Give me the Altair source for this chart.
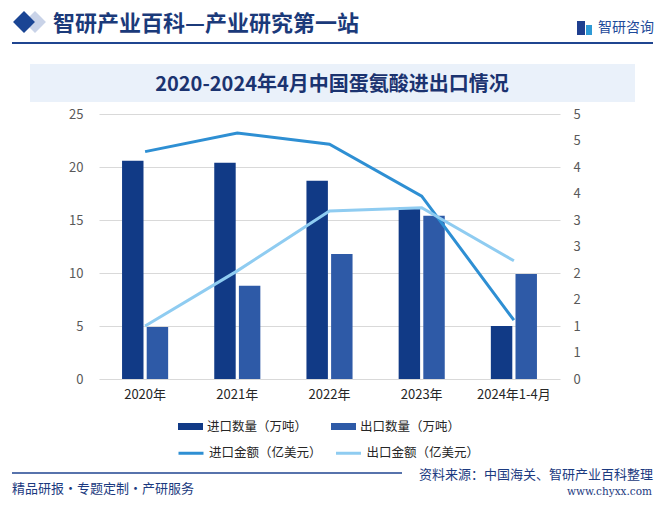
import altair as alt
import pandas as pd

years = ["2020年", "2021年", "2022年", "2023年", "2024年1-4月"]
import_qty = [20.6, 20.4, 18.7, 16.2, 5.0]
export_qty = [4.9, 8.8, 11.8, 15.4, 9.9]
import_amt = [4.29, 4.64, 4.43, 3.45, 1.11]
export_amt = [1.0, 2.04, 3.17, 3.23, 2.23]

bar_series = ["进口数量（万吨）", "出口数量（万吨）"]
line_series = ["进口金额（亿美元）", "出口金额（亿美元）"]
bar_colors = ["#113A86", "#2E5AA7"]
line_colors = ["#2E8FD3", "#8FCCF1"]

left_ticks = [0, 5, 10, 15, 20, 25]
right_ticks = [0, 0.5, 1, 1.5, 2, 2.5, 3, 3.5, 4, 4.5, 5]

FONT = "Noto Sans CJK SC"

bars_df = pd.DataFrame(
    {
        "year": years * 2,
        "series": [bar_series[0]] * 5 + [bar_series[1]] * 5,
        "value": import_qty + export_qty,
    }
)
lines_df = pd.DataFrame(
    {
        "year": years * 2,
        "series": [line_series[0]] * 5 + [line_series[1]] * 5,
        "value": import_amt + export_amt,
    }
)

x_enc = alt.X(
    "year:N",
    sort=years,
    scale=alt.Scale(paddingInner=0.5, paddingOuter=0.25),
    axis=alt.Axis(
        title=None, labelAngle=0, domain=False, ticks=False,
        labelColor="#262626", labelFontSize=13, labelPadding=9, labelFont=FONT,
    ),
)

bars = alt.Chart(bars_df).mark_bar().encode(
    x=x_enc,
    xOffset=alt.XOffset("series:N", sort=bar_series, scale=alt.Scale(paddingInner=0.13)),
    y=alt.Y(
        "value:Q",
        scale=alt.Scale(domain=[0, 25]),
        axis=alt.Axis(
            values=left_ticks, title=None, grid=True, gridColor="#D9D9D9",
            domain=False, ticks=False, labelColor="#595959", labelFontSize=13,
            labelPadding=16, labelFont=FONT,
        ),
    ),
    color=alt.Color(
        "series:N",
        scale=alt.Scale(domain=bar_series, range=bar_colors),
        legend=alt.Legend(
            title=None, orient="none", legendX=79, legendY=300, columns=2,
            symbolType="M-1,-0.28H1V0.28H-1Z", symbolSize=625, symbolStrokeWidth=0,
            labelFontSize=12.5, labelColor="#262626", labelFont=FONT,
            labelOffset=4, columnPadding=23, padding=0,
        ),
    ),
)

lines = alt.Chart(lines_df).mark_line(strokeWidth=3).encode(
    x=x_enc,
    y=alt.Y(
        "value:Q",
        scale=alt.Scale(domain=[0, 5]),
        axis=alt.Axis(
            orient="right", values=right_ticks, labelExpr="'' + round(datum.value)",
            title=None, grid=False,
            domain=False, ticks=False, labelColor="#595959", labelFontSize=13,
            labelPadding=13, labelFont=FONT, labelOverlap=False,
        ),
    ),
    stroke=alt.Stroke(
        "series:N",
        scale=alt.Scale(domain=line_series, range=line_colors),
        legend=alt.Legend(
            title=None, orient="none", legendX=78, legendY=325, columns=2,
            symbolType="stroke", symbolSize=625, symbolStrokeWidth=3,
            labelFontSize=12.5, labelColor="#262626", labelFont=FONT,
            labelOffset=4, columnPadding=7.5, padding=0,
        ),
    ),
)

one = pd.DataFrame({"k": [0]})

# Header decorations (plot-area coordinates: page x - 99, page y - 114)
diamond_light = alt.Chart(one).mark_point(
    shape="diamond", filled=True, size=480, color="#C9D3E8", opacity=1
).encode(x=alt.value(-64), y=alt.value(-92))
diamond_dark = alt.Chart(one).mark_point(
    shape="diamond", filled=True, size=480, color="#1A4594", opacity=1
).encode(x=alt.value(-75), y=alt.value(-92))
header_text = alt.Chart(one).mark_text(
    text="智研产业百科—产业研究第一站", align="left", baseline="middle",
    fontSize=22, fontWeight="bold", font=FONT, color="#1B3A7A",
).encode(x=alt.value(-46), y=alt.value(-90))
header_rule = alt.Chart(one).mark_rule(color="#1F4590", strokeWidth=2).encode(
    x=alt.value(-87), x2=alt.value(554), y=alt.value(-71)
)
logo_a = alt.Chart(one).mark_rect(color="#1F3F8F").encode(
    x=alt.value(478), x2=alt.value(486), y=alt.value(-93), y2=alt.value(-79)
)
logo_b = alt.Chart(one).mark_rect(color="#2E9AD6").encode(
    x=alt.value(487), x2=alt.value(493), y=alt.value(-89), y2=alt.value(-79)
)
logo_text = alt.Chart(one).mark_text(
    text="智研咨询", align="left", baseline="middle", fontSize=14, font=FONT,
    color="#1E4A9A",
).encode(x=alt.value(499), y=alt.value(-86))

title_band = alt.Chart(one).mark_rect(color="#EAF1FA").encode(
    x=alt.value(-69), x2=alt.value(536), y=alt.value(-50), y2=alt.value(-12)
)
title_text = alt.Chart(one).mark_text(
    text="2020-2024年4月中国蛋氨酸进出口情况", align="center", baseline="middle",
    fontSize=20, fontWeight="bold", font=FONT, color="#1B3370",
).encode(x=alt.value(233), y=alt.value(-29))

# Footer
footer_rule = alt.Chart(one).mark_rule(color="#1F4590", strokeWidth=1.5).encode(
    x=alt.value(-87), x2=alt.value(303), y=alt.value(359)
)
footer_left = alt.Chart(one).mark_text(
    text="精品研报・专题定制・产研服务", align="left", baseline="middle",
    fontSize=13, font=FONT, color="#1B3A80",
).encode(x=alt.value(-87), y=alt.value(375))
footer_src = alt.Chart(one).mark_text(
    text="资料来源：中国海关、智研产业百科整理", align="right", baseline="middle",
    fontSize=13, font=FONT, color="#1B3A80",
).encode(x=alt.value(554), y=alt.value(361))
footer_url = alt.Chart(one).mark_text(
    text="www.chyxx.com", align="right", baseline="middle",
    fontSize=10.5, font="DejaVu Serif", color="#1B3A80",
).encode(x=alt.value(553), y=alt.value(378))

data_layer = alt.layer(bars, lines).resolve_scale(y="independent")

chart = alt.layer(
    title_band, diamond_light, diamond_dark, header_text, header_rule,
    logo_a, logo_b, logo_text, title_text,
    footer_rule, footer_left, footer_src, footer_url,
    data_layer,
).properties(
    width=461, height=265,
    autosize=alt.AutoSizeParams(type="none"),
    padding={"left": 91, "top": 106, "right": 97, "bottom": 122},
    background="#FFFFFF",
).configure_view(strokeWidth=0)

chart.save("out.html", embed_options={"renderer": "svg", "actions": False})
